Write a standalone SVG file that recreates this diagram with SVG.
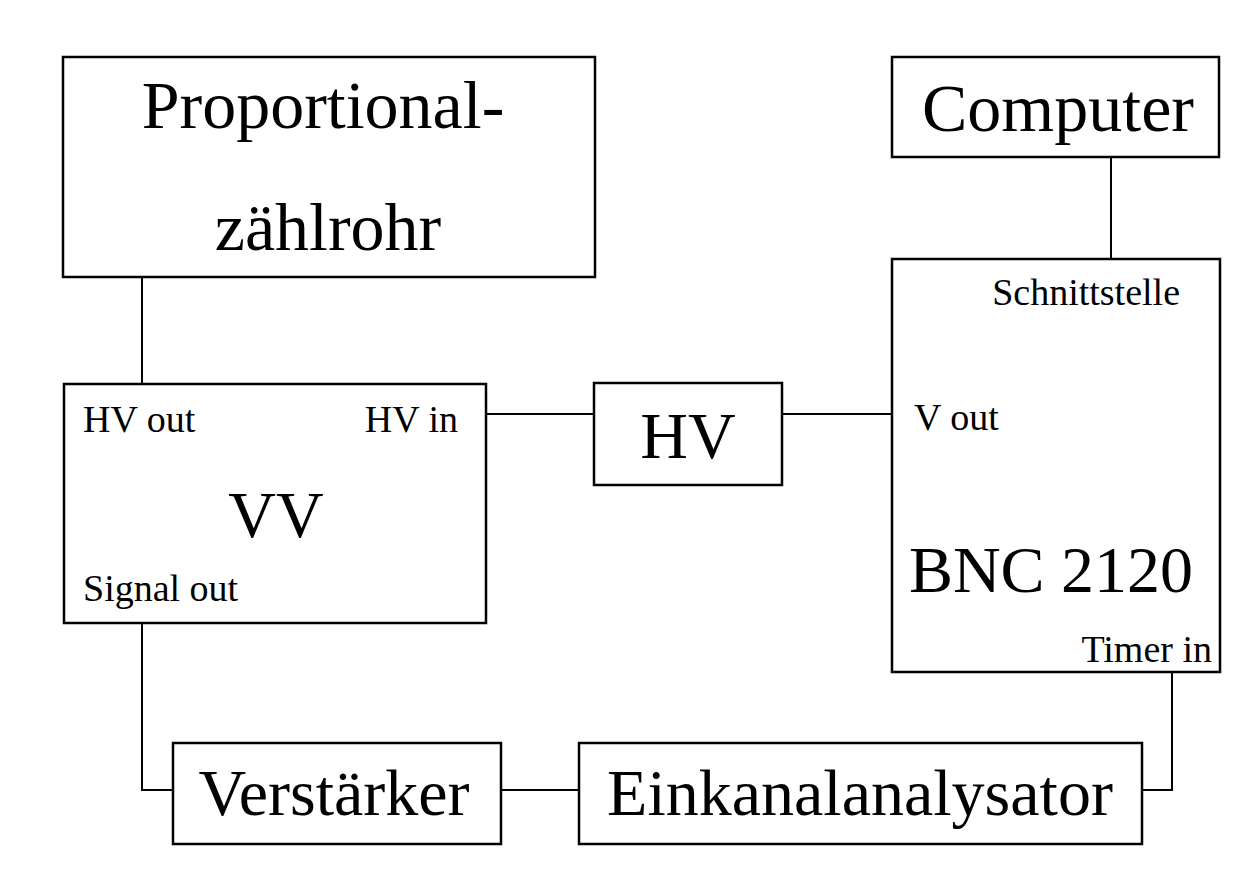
<svg xmlns="http://www.w3.org/2000/svg" width="1249" height="877" viewBox="0 0 1249 877">
<style>
.box{fill:#fff;stroke:#000;stroke-width:2.5}
.ln{fill:none;stroke:#000;stroke-width:2}
.big{font-family:"Liberation Serif","Times New Roman",serif;font-size:66px;fill:#000}
.xl{font-size:68px}
.sm{font-family:"Liberation Serif","Times New Roman",serif;font-size:38px;fill:#000}
</style>
<rect width="1249" height="877" fill="#fff"/>
<g id="connectors">
<line class="ln" x1="142" y1="277" x2="142" y2="384"/>
<line class="ln" x1="486" y1="414" x2="594" y2="414"/>
<line class="ln" x1="782" y1="414" x2="892" y2="414"/>
<line class="ln" x1="1111" y1="157" x2="1111" y2="259"/>
<polyline class="ln" points="142,623 142,790 173,790"/>
<line class="ln" x1="501" y1="790" x2="579" y2="790"/>
<polyline class="ln" points="1142,790 1172,790 1172,672"/>
</g>
<g id="proportional">
<rect class="box" x="63" y="57" width="532" height="220"/>
<text class="big xl" x="323" y="128" text-anchor="middle">Proportional-</text>
<text class="big xl" x="328" y="250" text-anchor="middle">zählrohr</text>
</g>
<g id="computer">
<rect class="box" x="892" y="57" width="327" height="100"/>
<text class="big xl" x="1058" y="131" text-anchor="middle">Computer</text>
</g>
<g id="vv">
<rect class="box" x="64" y="384" width="422" height="239"/>
<text class="sm" x="83" y="432">HV out</text>
<text class="sm" x="458" y="432" text-anchor="end">HV in</text>
<text class="big" x="276" y="537" text-anchor="middle">VV</text>
<text class="sm" x="83" y="601">Signal out</text>
</g>
<g id="hv">
<rect class="box" x="594" y="383" width="188" height="102"/>
<text class="big" x="688" y="458" text-anchor="middle">HV</text>
</g>
<g id="bnc">
<rect class="box" x="892" y="259" width="328" height="413"/>
<text class="sm" x="1180" y="305" text-anchor="end">Schnittstelle</text>
<text class="sm" x="914" y="430">V out</text>
<text class="big" x="1051" y="592" text-anchor="middle">BNC 2120</text>
<text class="sm" x="1212" y="662" text-anchor="end">Timer in</text>
</g>
<g id="verstaerker">
<rect class="box" x="173" y="743" width="328" height="101"/>
<text class="big" x="334" y="815" text-anchor="middle">Verstärker</text>
</g>
<g id="einkanal">
<rect class="box" x="579" y="743" width="563" height="101"/>
<text class="big" x="860" y="815" text-anchor="middle">Einkanalanalysator</text>
</g>
</svg>
